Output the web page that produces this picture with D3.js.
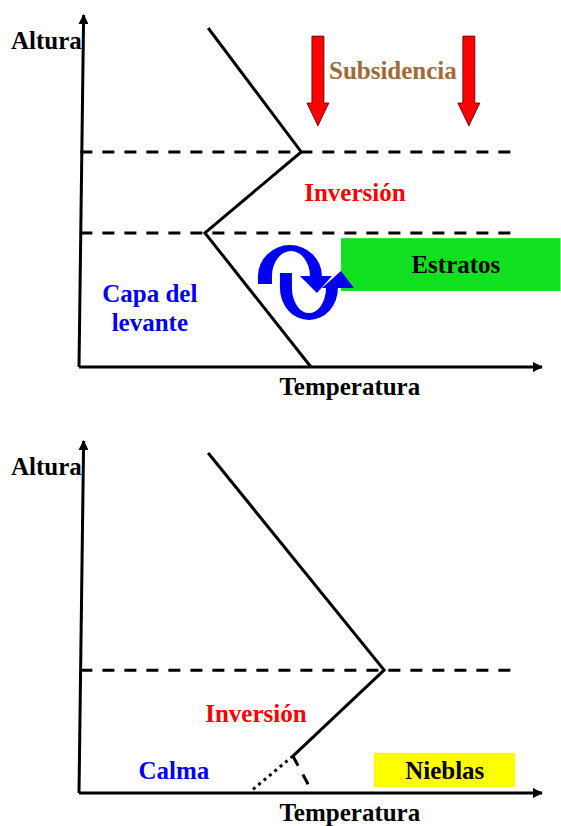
<!DOCTYPE html>
<html>
<head>
<meta charset="utf-8">
<script src="https://cdn.jsdelivr.net/npm/d3@7"></script>
<style>
  body { margin: 0; background: #fff; }
  svg text { font-family: "Liberation Serif", "Times New Roman", "DejaVu Serif", serif; font-weight: bold; font-size: 25px; }
</style>
</head>
<body>
<script>
// temperature (t) and height (h) in arbitrary units 0..100
var topProfile = [[27.9, 96.3], [48, 61.1], [27.2, 38.1], [50.1, 0]];
var topInversion = [61.1, 38.1];
var subsidence = [51.6, 84.2];
var bottomProfile = [[27.9, 96.6], [65.9, 34.9], [46.2, 10.5]];
var bottomDotted = [[46.2, 10.5], [37.1, 0.5]];
var bottomDashed = [[46.2, 10.5], [50.3, 0.5]];
var bottomInversion = [34.9];
var axisLabels = ["Altura", "Temperatura"];
var topLabels = ["Subsidencia", "Inversión", "Estratos", "Capa del", "levante"];
var bottomLabels = ["Inversión", "Calma", "Nieblas"];

var svg = d3.select("body").append("svg").attr("width", 561).attr("height", 826)
  .attr("font-family", "Liberation Serif, serif");

var x = d3.scaleLinear().domain([0, 100]).range([79, 542]);
var yTop = d3.scaleLinear().domain([0, 100]).range([367, 15]);
var yBot = d3.scaleLinear().domain([0, 100]).range([793, 441]);

var defs = svg.append("defs");
defs.append("marker").attr("id", "arr")
    .attr("viewBox", "0 0 10 10").attr("refX", 9).attr("refY", 5)
    .attr("markerWidth", 10).attr("markerHeight", 10)
    .attr("markerUnits", "userSpaceOnUse")
    .attr("orient", "auto")
  .append("path").attr("d", "M0,0L10,5L0,10Z").attr("fill", "#000");

function panel(y, profile) {
  var g = svg.append("g");
  // axes
  g.append("line").attr("x1", x(0)).attr("y1", y(0)).attr("x2", x(1)).attr("y2", y(100))
    .attr("stroke", "#000").attr("stroke-width", 3).attr("marker-end", "url(#arr)");
  g.append("line").attr("x1", x(0)).attr("y1", y(0)).attr("x2", x(100)).attr("y2", y(0))
    .attr("stroke", "#000").attr("stroke-width", 3).attr("marker-end", "url(#arr)");
  g.append("text").attr("x", 11).attr("y", y(100) + 34).text(axisLabels[0]);
  g.append("text").attr("x", x(58.5)).attr("y", y(0) + 28).attr("text-anchor", "middle").text(axisLabels[1]);

  var line = d3.line().x(function(d) { return x(d[0]); }).y(function(d) { return y(d[1]); });
  g.append("path").attr("d", line(profile)).attr("fill", "none")
    .attr("stroke", "#000").attr("stroke-width", 3);
  return { g: g, line: line };
}

// ---- top panel ----
var p1 = panel(yTop, topProfile);

p1.g.selectAll("line.inv").data(topInversion).enter().append("line")
  .attr("class", "inv")
  .attr("x1", x(0.3)).attr("x2", x(94.2))
  .attr("y1", function(d) { return yTop(d); }).attr("y2", function(d) { return yTop(d); })
  .attr("stroke", "#000").attr("stroke-width", 3).attr("stroke-dasharray", "12,10");

// subsidence arrows
p1.g.selectAll("path.sub").data(subsidence).enter().append("path")
  .attr("class", "sub")
  .attr("d", function(d) {
    var cx = x(d), t = yTop(94), b = yTop(75), tip = yTop(68.5);
    return "M" + (cx - 6) + "," + t + "L" + (cx + 6) + "," + t + "L" + (cx + 6) + "," + b +
      "L" + (cx + 11) + "," + b + "L" + cx + "," + tip + "L" + (cx - 11) + "," + b +
      "L" + (cx - 6) + "," + b + "Z";
  })
  .attr("fill", "#ff0000").attr("stroke", "#400").attr("stroke-width", 0.8);

p1.g.append("text").attr("x", x(67.8)).attr("y", yTop(81.8)).attr("text-anchor", "middle")
  .attr("fill", "#a06a3a").text(topLabels[0]);
p1.g.append("text").attr("x", x(59.6)).attr("y", yTop(47.2)).attr("text-anchor", "middle")
  .attr("fill", "#ff0000").text(topLabels[1]);

// stratus box
p1.g.append("rect").attr("x", x(56.6)).attr("y", yTop(36.6))
  .attr("width", x(104) - x(56.6)).attr("height", yTop(21.6) - yTop(36.6))
  .attr("fill", "#10e020");
p1.g.append("text").attr("x", x(81.4)).attr("y", yTop(26.7)).attr("text-anchor", "middle")
  .attr("fill", "#000").text(topLabels[2]);

// circulation arrows (shape drawn around an anchor point)
var ax = x(48.8), ay = yTop(24.7);
var circ = p1.g.append("g").attr("transform", "translate(" + (ax - 305) + "," + (ay - 280) + ")")
  .attr("fill", "#0000ee");
circ.append("path").attr("d",
  "M258,284 L258,276 A32,31 0 0 1 322,276 L332,276 L317,293 L300,276 L310,276 A19,25 0 0 0 272,276 L272,284 Z");
circ.append("path").attr("d",
  "M280,273 L280,288 A29,32 0 0 0 338,288 L354,288 L341,271 L322,288 L326,288 A17,25 0 0 1 292,288 L292,273 Z");

p1.g.selectAll("text.capa").data(topLabels.slice(3)).enter().append("text")
  .attr("class", "capa")
  .attr("x", x(15.3)).attr("y", function(d, i) { return yTop(18.5) + i * 29; })
  .attr("text-anchor", "middle").attr("fill", "#0000ee").text(function(d) { return d; });

// ---- bottom panel ----
var p2 = panel(yBot, bottomProfile);

p2.g.selectAll("line.inv").data(bottomInversion).enter().append("line")
  .attr("class", "inv")
  .attr("x1", x(0.3)).attr("x2", x(94.2))
  .attr("y1", function(d) { return yBot(d); }).attr("y2", function(d) { return yBot(d); })
  .attr("stroke", "#000").attr("stroke-width", 3).attr("stroke-dasharray", "12,10");

p2.g.append("path").attr("d", p2.line(bottomDotted)).attr("fill", "none")
  .attr("stroke", "#000").attr("stroke-width", 3).attr("stroke-dasharray", "3,4");
p2.g.append("path").attr("d", p2.line(bottomDashed)).attr("fill", "none")
  .attr("stroke", "#000").attr("stroke-width", 3).attr("stroke-dasharray", "11,10");

p2.g.append("text").attr("x", x(38.2)).attr("y", yBot(20.2)).attr("text-anchor", "middle")
  .attr("fill", "#ff0000").text(bottomLabels[0]);
p2.g.append("text").attr("x", x(20.5)).attr("y", yBot(4)).attr("text-anchor", "middle")
  .attr("fill", "#0000ee").text(bottomLabels[1]);

p2.g.append("rect").attr("x", x(63.7)).attr("y", yBot(11.4))
  .attr("width", x(94.2) - x(63.7)).attr("height", yBot(1.7) - yBot(11.4))
  .attr("fill", "#ffff00");
p2.g.append("text").attr("x", x(79)).attr("y", yBot(4)).attr("text-anchor", "middle")
  .attr("fill", "#000").text(bottomLabels[2]);
</script>
</body>
</html>
